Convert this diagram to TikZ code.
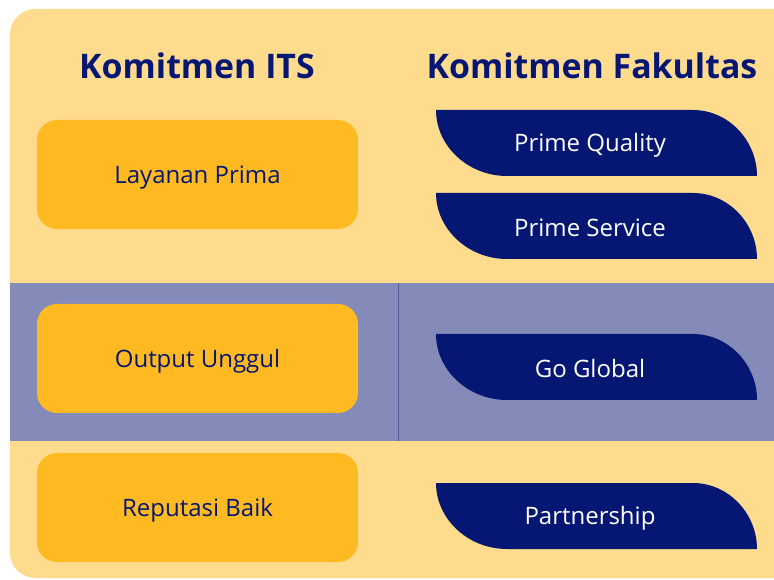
\documentclass[tikz,border=0pt]{standalone}
\usepackage{fontspec}
\setmainfont{Open Sans}
\usepackage{tikz}

\definecolor{bgyellow}{RGB}{255,219,142}
\definecolor{bandblue}{RGB}{132,139,185}
\definecolor{boxyellow}{RGB}{255,185,33}
\definecolor{navy}{RGB}{6,23,115}

\begin{document}
\begin{tikzpicture}[x=0.75pt,y=0.75pt,yscale=-1,xscale=1,
  title/.style={text=navy,font=\fontsize{25.4}{30}\selectfont\bfseries},
  itsbox/.style={fill=boxyellow,rounded corners=15pt,inner sep=0pt,minimum width=240.75pt,minimum height=81.75pt,text depth=0pt,text=navy,font=\fontsize{18}{21}\selectfont},
  faklabel/.style={text=white,inner sep=0.75pt,font=\fontsize{18}{21}\selectfont}]
\useasboundingbox (0,0) rectangle (774,580);
\clip (0,0) rectangle (774,580);
% background and middle band
\fill [bgyellow,rounded corners=19pt] (10,9) rectangle (810,578);
\fill [bandblue] (10,283) rectangle (774,441);
\draw [navy!70,line width=0.6pt] (398,283) -- (398,441);
% headings
\node [title] (hits) at (197,66) {Komitmen ITS};
\node [title] (hfak) at (592,66) {Komitmen Fakultas};
% komitmen ITS
\node [itsbox] (layanan) at (197.5,174.5) {Layanan Prima};
\node [itsbox] (output) at (197.5,358.5) {Output Unggul};
\node [itsbox] (reputasi) at (197.5,507.5) {Reputasi Baik};
% komitmen fakultas
\foreach \t in {110,193,334,483}{
  \fill [navy] (436,\t) -- (693,\t) .. controls (728,\t) and (757,\t+30) .. (757,\t+66) -- (507,\t+66) .. controls (468,\t+66) and (436,\t+36) .. (436,\t) -- cycle ;
}
\node [faklabel] (quality) at (590,145) {Prime Quality};
\node [faklabel] (service) at (590,228) {Prime Service};
\node [faklabel] (global) at (590,369) {Go Global};
\node [faklabel] (partner) at (590,518) {Partnership};
\end{tikzpicture}
\end{document}
